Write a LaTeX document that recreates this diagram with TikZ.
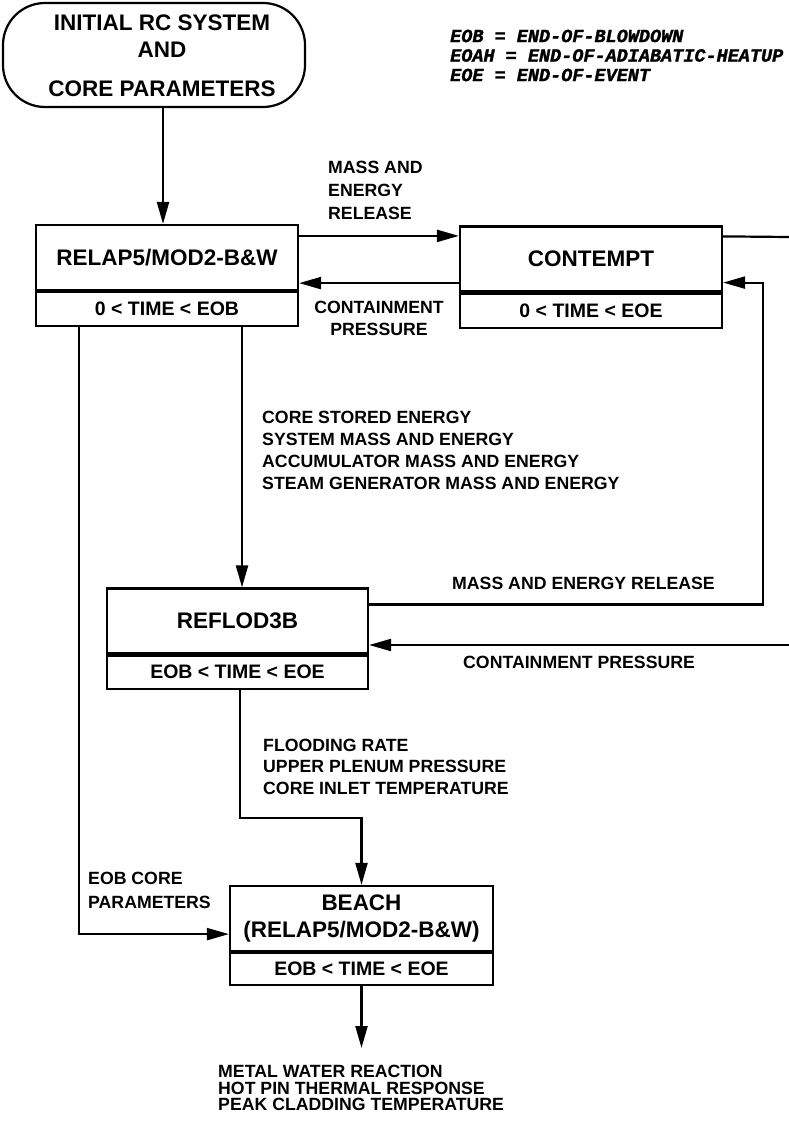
\documentclass[tikz,border=0pt]{standalone}
\usepackage{fontspec}
\setmainfont{Liberation Sans}
\newfontfamily\legfont{Liberation Mono}[RawFeature={embolden=1.5}]
\usetikzlibrary{arrows.meta}
\tikzset{
  ln/.style={line width=2.2pt},
  arr/.style={ln, -{Triangle[length=22pt,width=12pt]}},
  boxtop/.style={draw, ln, minimum width=262pt, minimum height=65pt, inner sep=0pt,
    font=\fontsize{22.5}{27}\selectfont\bfseries, align=center},
  boxbot/.style={draw, ln, minimum width=262pt, minimum height=34pt, inner sep=0pt,
    font=\fontsize{19.5}{24}\selectfont\bfseries, anchor=north},
  lbl/.style={inner sep=0pt, font=\fontsize{17.7}{22}\selectfont\bfseries, align=left, anchor=north west},
  legend/.style={inner sep=0pt, font=\fontsize{18.5}{19.5}\selectfont\legfont\bfseries\itshape, align=left, anchor=north west},
}
\begin{document}
\begin{tikzpicture}[x=1pt,y=-1pt]
\useasboundingbox[fill=white] (0,0) rectangle (789,1132);

% start node
\node[draw, ln, rounded corners=42pt, inner sep=0pt, minimum width=302pt, minimum height=104pt] (start) at (154,55) {};
\node[inner sep=0pt, align=center, font=\fontsize{22.5}{27}\selectfont\bfseries] (starttxt) at (162,56) {INITIAL RC SYSTEM\\AND\\[12pt]CORE PARAMETERS};

% legend
\node[legend] (leg) at (450,29.5) {EOB = END-OF-BLOWDOWN\\EOAH = END-OF-ADIABATIC-HEATUP\\EOE = END-OF-EVENT};

% boxes
\node[boxtop] (relap) at (167,257.5) {RELAP5/MOD2-B\&W};
\node[boxbot] (relapt) at (relap.south) {0 < TIME < EOB};

\node[boxtop] (contempt) at (591,259) {CONTEMPT};
\node[boxbot] (contemptt) at (contempt.south) {0 < TIME < EOE};

\node[boxtop, minimum width=261pt] (reflod) at (237.5,621) {REFLOD3B};
\node[boxbot, minimum width=261pt, minimum height=33pt] (reflodt) at (reflod.south) {EOB < TIME < EOE};

\node[boxtop, minimum width=263pt] (beach) at (361.5,918.5) {BEACH\\(RELAP5/MOD2-B\&W)};
\node[boxbot, minimum width=263pt, minimum height=32pt] (beacht) at (beach.south) {EOB < TIME < EOE};

% labels
\node[lbl] (lmass1) at (328,160.5) {MASS AND\\[1pt]ENERGY\\[1pt]RELEASE};
\node[lbl, align=center, anchor=north] (lcont1) at (379,300.5) {CONTAINMENT\\PRESSURE};
\node[lbl] (lcore) at (262,410.5) {CORE STORED ENERGY\\SYSTEM MASS AND ENERGY\\ACCUMULATOR MASS AND ENERGY\\STEAM GENERATOR MASS AND ENERGY};
\node[lbl] (lmass2) at (452,576.5) {MASS AND ENERGY RELEASE};
\node[lbl] (lcont2) at (463,655.5) {CONTAINMENT PRESSURE};
\node[lbl, font=\fontsize{17.7}{21.5}\selectfont\bfseries] (lflood) at (263,738.5) {FLOODING RATE\\UPPER PLENUM PRESSURE\\CORE INLET TEMPERATURE};
\node[lbl, font=\fontsize{17.7}{24}\selectfont\bfseries] (leob) at (88,871.5) {EOB CORE\\PARAMETERS};
\node[lbl, inner ysep=17pt, font=\fontsize{17.7}{16.5}\selectfont\bfseries] (out) at (218,1048) {METAL WATER REACTION\\HOT PIN THERMAL RESPONSE\\PEAK CLADDING TEMPERATURE};

% free ends at the right edge
\coordinate (edgeA) at (789,237);
\coordinate (edgeB) at (789,645);
\coordinate (rx) at (763,0);

% connectors
\draw[arr] ([xshift=-4pt]relap.north |- start.south) -- ([xshift=-4pt]relap.north);
\draw[arr] ([yshift=-12pt]relap.north east) -- ([yshift=-12pt]relap.north east -| contempt.west);
\draw[arr] ([yshift=8pt]relap.south east -| contempt.west) -- ([yshift=8pt]relap.south east);
\draw[ln] ([yshift=-11pt]contempt.north east) -- (edgeA);
\draw[arr] ([yshift=-17pt]reflod.north east) -- ([yshift=-17pt]reflod.north east -| rx) |- ([yshift=10pt]contempt.south east);
\draw[arr] (edgeB) -- (edgeB -| reflod.east);
\draw[arr] ([xshift=75pt]relapt.south) -- ([xshift=75pt]relapt.south |- reflod.north);
\draw[arr] ([xshift=44pt]relapt.south west) |- ([yshift=18pt]beach.south west);
\draw[arr] ([xshift=2.5pt]reflodt.south) -- ++(0,128) -| (beach.north);
\draw[arr] (beacht.south) -- (beacht.south |- out.north);
\end{tikzpicture}
\end{document}
